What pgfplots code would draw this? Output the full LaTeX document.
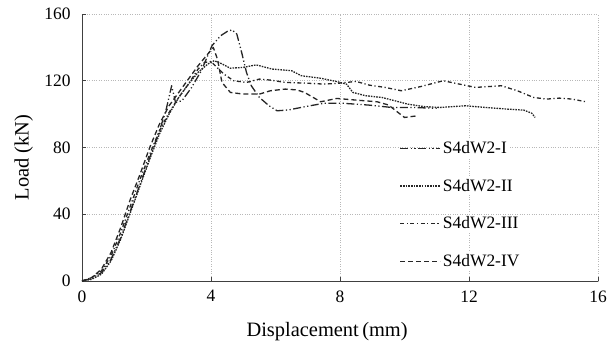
\documentclass[border=0pt]{standalone}
\usepackage{pgfplots}
\pgfplotsset{compat=1.18}
\usepackage{fontspec}
\setmainfont{Liberation Serif}
\begin{document}
\begin{tikzpicture}
\begin{axis}[
  scale only axis, width=516bp, height=267bp,
  xmin=0, xmax=16, ymin=0, ymax=160,
  xtick={0,4,8,12,16}, ytick={0,40,80,120,160},
  axis lines*=left,
  axis line style={black!75, line width=0.8bp},
  tick align=inside, major tick length=4bp,
  tick style={black!75, line width=0.6bp},
  grid=major, major grid style={dotted, black!28, line width=0.6bp},
  /pgf/number format/assume math mode=true,
  ticklabel style={font=\fontsize{17.5}{20}\selectfont},
  yticklabel style={xshift=-8bp},
  xticklabel style={yshift=-6bp},
  xlabel={Displacement\,(mm)}, ylabel={Load (kN)},
  label style={font=\fontsize{20.5}{24}\selectfont},
  xlabel style={at={(axis description cs:0.475,-0.19)}, anchor=center},
  ylabel style={at={(axis description cs:-0.113,0.4625)}, anchor=center},
  every axis plot/.append style={black!85, line width=1.3bp, line join=round},
  legend cell align=left,
  legend image code/.code={\draw[#1] (0bp,0bp) -- (40bp,0bp);},
  legend style={at={(axis cs:9.75,86)}, anchor=north west, draw=none, fill=none,
    font=\fontsize{17.5}{20}\selectfont, row sep=20bp,
    nodes={fill=white, inner sep=2bp}},
]
\coordinate (SW) at (rel axis cs:0,0);
% S4dW2-I
\addplot[dash pattern=on 8bp off 2.5bp on 1.2bp off 2.5bp on 1.2bp off 2.5bp] coordinates {
(0,0) (0.3,1.5) (0.6,5) (0.9,13) (1.2,26) (1.5,42) (1.8,58) (2.1,74) (2.4,90) (2.6,102) (2.78,117) (2.9,107) (3.1,108) (3.4,116) (3.7,126) (4.03,141) (4.3,147) (4.5,149.5) (4.65,150.5) (4.8,148) (4.95,137) (5.1,125) (5.25,117) (5.5,110) (5.8,105) (6.05,102) (6.4,102.5) (6.9,104.4) (7.5,106.5) (8.1,106.5) (8.9,105.4) (9.6,104) (10.2,104) (11.0,103.5)
};
\addlegendentry{S4dW2-I}
% S4dW2-II
\addplot[dash pattern=on 1.6bp off 1.1bp] coordinates {
(0,0) (0.3,1) (0.6,4) (0.9,12) (1.2,25) (1.5,41) (1.8,57) (2.1,73) (2.4,88) (2.7,100) (3.0,110) (3.3,118) (3.6,125) (3.9,130) (4.1,132) (4.3,130.5) (4.6,127.5) (5.0,128) (5.4,129.5) (5.9,127) (6.5,126) (6.8,123) (7.4,121.5) (7.9,119.5) (8.2,118) (8.4,113) (8.8,111) (9.3,110) (9.7,108) (10.1,106) (10.6,104.5) (11.1,104) (11.9,105) (12.5,104) (13.2,103) (13.7,102.4) (13.95,100.5) (14.05,98)
};
\addlegendentry{S4dW2-II}
% S4dW2-III
\addplot[dash pattern=on 4bp off 2.5bp on 1.2bp off 2.5bp] coordinates {
(0,0) (0.3,2) (0.6,6) (0.9,15) (1.2,29) (1.5,45) (1.8,61) (2.1,76) (2.4,90) (2.7,101) (3.0,110) (3.3,118) (3.6,127) (3.8,131) (4.0,131.5) (4.4,124) (4.7,120) (5.1,119) (5.5,121) (5.84,120.4) (6.3,119) (6.9,118.6) (7.5,118) (7.9,118.4) (8.5,119.6) (8.9,117.4) (9.4,116) (9.9,114) (10.5,116.5) (11.2,120) (11.7,118) (12.2,116) (12.6,116.5) (13.0,117) (13.5,114) (14.0,110) (14.4,109) (14.8,109.6) (15.2,109) (15.6,107.5)
};
\addlegendentry{S4dW2-III}
% S4dW2-IV
\addplot[dash pattern=on 5bp off 3bp] coordinates {
(0,0) (0.3,2) (0.6,7) (0.9,17) (1.2,32) (1.5,49) (1.8,64) (2.1,80) (2.4,94) (2.7,105) (3.0,113) (3.3,121) (3.6,129) (3.9,136) (4.07,140) (4.2,133) (4.34,119) (4.6,113) (5.0,112) (5.5,112) (5.84,114) (6.3,115) (6.67,114.5) (6.9,113) (7.4,107.4) (7.9,109.4) (8.5,108.4) (9.15,107.4) (9.5,105.5) (9.8,101) (10.0,98) (10.4,99)
};
\addlegendentry{S4dW2-IV}
\end{axis}
\pgfresetboundingbox
\path (SW) ++(-82bp,-66bp) rectangle ++(611bp,347bp);
\end{tikzpicture}
\end{document}
